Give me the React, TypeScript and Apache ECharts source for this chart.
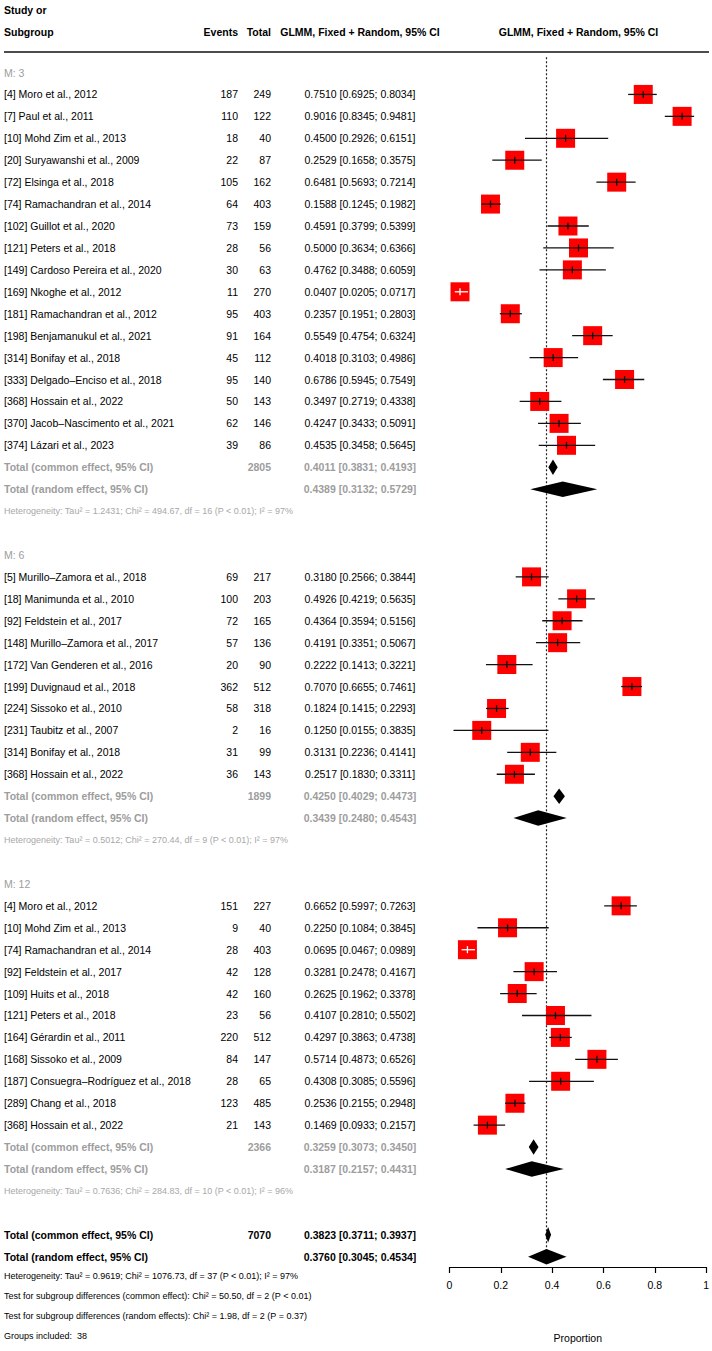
import React, { useEffect, useRef } from 'react';
import * as echarts from 'echarts';

const FONT = '"Liberation Sans", Arial, Helvetica, sans-serif';

// ---------------- Subgroup M: 3 ----------------
const m3Studies = [
  '[4] Moro et al., 2012',
  '[7] Paul et al., 2011',
  '[10] Mohd Zim et al., 2013',
  '[20] Suryawanshi et al., 2009',
  '[72] Elsinga et al., 2018',
  '[74] Ramachandran et al., 2014',
  '[102] Guillot et al., 2020',
  '[121] Peters et al., 2018',
  '[149] Cardoso Pereira et al., 2020',
  '[169] Nkoghe et al., 2012',
  '[181] Ramachandran et al., 2012',
  '[198] Benjamanukul et al., 2021',
  '[314] Bonifay et al., 2018',
  '[333] Delgado–Enciso et al., 2018',
  '[368] Hossain et al., 2022',
  '[370] Jacob–Nascimento et al., 2021',
  '[374] Lázari et al., 2023',
];
const m3Events = [187, 110, 18, 22, 105, 64, 73, 28, 30, 11, 95, 91, 45, 95, 50, 62, 39];
const m3Totals = [249, 122, 40, 87, 162, 403, 159, 56, 63, 270, 403, 164, 112, 140, 143, 146, 86];
const m3Est = [0.751, 0.9016, 0.45, 0.2529, 0.6481, 0.1588, 0.4591, 0.5, 0.4762, 0.0407, 0.2357, 0.5549, 0.4018, 0.6786, 0.3497, 0.4247, 0.4535];
const m3Lower = [0.6925, 0.8345, 0.2926, 0.1658, 0.5693, 0.1245, 0.3799, 0.3634, 0.3488, 0.0205, 0.1951, 0.4754, 0.3103, 0.5945, 0.2719, 0.3433, 0.3458];
const m3Upper = [0.8034, 0.9481, 0.6151, 0.3575, 0.7214, 0.1982, 0.5399, 0.6366, 0.6059, 0.0717, 0.2803, 0.6324, 0.4986, 0.7549, 0.4338, 0.5091, 0.5645];

// ---------------- Subgroup M: 6 ----------------
const m6Studies = [
  '[5] Murillo–Zamora et al., 2018',
  '[18] Manimunda et al., 2010',
  '[92] Feldstein et al., 2017',
  '[148] Murillo–Zamora et al., 2017',
  '[172] Van Genderen et al., 2016',
  '[199] Duvignaud et al., 2018',
  '[224] Sissoko et al., 2010',
  '[231] Taubitz et al., 2007',
  '[314] Bonifay et al., 2018',
  '[368] Hossain et al., 2022',
];
const m6Events = [69, 100, 72, 57, 20, 362, 58, 2, 31, 36];
const m6Totals = [217, 203, 165, 136, 90, 512, 318, 16, 99, 143];
const m6Est = [0.318, 0.4926, 0.4364, 0.4191, 0.2222, 0.707, 0.1824, 0.125, 0.3131, 0.2517];
const m6Lower = [0.2566, 0.4219, 0.3594, 0.3351, 0.1413, 0.6655, 0.1415, 0.0155, 0.2236, 0.183];
const m6Upper = [0.3844, 0.5635, 0.5156, 0.5067, 0.3221, 0.7461, 0.2293, 0.3835, 0.4141, 0.3311];

// ---------------- Subgroup M: 12 ----------------
const m12Studies = [
  '[4] Moro et al., 2012',
  '[10] Mohd Zim et al., 2013',
  '[74] Ramachandran et al., 2014',
  '[92] Feldstein et al., 2017',
  '[109] Huits et al., 2018',
  '[121] Peters et al., 2018',
  '[164] Gérardin et al., 2011',
  '[168] Sissoko et al., 2009',
  '[187] Consuegra–Rodríguez et al., 2018',
  '[289] Chang et al., 2018',
  '[368] Hossain et al., 2022',
];
const m12Events = [151, 9, 28, 42, 42, 23, 220, 84, 28, 123, 21];
const m12Totals = [227, 40, 403, 128, 160, 56, 512, 147, 65, 485, 143];
const m12Est = [0.6652, 0.225, 0.0695, 0.3281, 0.2625, 0.4107, 0.4297, 0.5714, 0.4308, 0.2536, 0.1469];
const m12Lower = [0.5997, 0.1084, 0.0467, 0.2478, 0.1962, 0.281, 0.3863, 0.4873, 0.3085, 0.2155, 0.0933];
const m12Upper = [0.7263, 0.3845, 0.0989, 0.4167, 0.3378, 0.5502, 0.4738, 0.6526, 0.5596, 0.2948, 0.2157];

// ---------------- Subgroup summaries ----------------
const subgroupLabels = ['M: 3', 'M: 6', 'M: 12'];
const subgroupCommonN = [2805, 1899, 2366];
const subgroupCommonEst = [0.4011, 0.425, 0.3259];
const subgroupCommonLower = [0.3831, 0.4029, 0.3073];
const subgroupCommonUpper = [0.4193, 0.4473, 0.345];
const subgroupRandomEst = [0.4389, 0.3439, 0.3187];
const subgroupRandomLower = [0.3132, 0.248, 0.2157];
const subgroupRandomUpper = [0.5729, 0.4543, 0.4431];
const subgroupHeterogeneity = [
  'Heterogeneity: Tau² = 1.2431; Chi² = 494.67, df = 16 (P < 0.01); I² = 97%',
  'Heterogeneity: Tau² = 0.5012; Chi² = 270.44, df = 9 (P < 0.01); I² = 97%',
  'Heterogeneity: Tau² = 0.7636; Chi² = 284.83, df = 10 (P < 0.01); I² = 96%',
];

// ---------------- Overall ----------------
const overallCommonN = 7070;
const overallCommon = [0.3823, 0.3711, 0.3937];
const overallRandom = [0.376, 0.3045, 0.4534];
const footerLines = [
  'Heterogeneity: Tau² = 0.9619; Chi² = 1076.73, df = 37 (P < 0.01); I² = 97%',
  'Test for subgroup differences (common effect): Chi² = 50.50, df = 2 (P < 0.01)',
  'Test for subgroup differences (random effects): Chi² = 1.98, df = 2 (P = 0.37)',
  'Groups included:  38',
];
const axisTickValues = [0, 0.2, 0.4, 0.6, 0.8, 1];

// ---------------- Layout constants ----------------
const ROW_TOP = 72.5;
const ROW_H = 21.93;
const FOOTER_STEP = 0.9; // footer lines are a little tighter (in rows)
const N_ROWS = 58;
const PLOT_LEFT = 449.5;
const PLOT_WIDTH = 258;
const SQUARE = 19;
const DIAMOND_H = 15.5;
const NAME_X = 4;
const EVENTS_X = 238;
const TOTAL_X = 271;
const CI_X = 360;

const GREY = '#9d9d9d';
const HET_GREY = '#a8a8a8';

type TextRow = {
  row: number;
  kind: 'label' | 'study' | 'subTotal' | 'het' | 'total' | 'footer';
  name: string;
  events?: string;
  total?: string;
  ci?: string;
};

const fmt = (v: number) => v.toFixed(4);
const ciText = (e: number, l: number, u: number) => `${fmt(e)} [${fmt(l)}; ${fmt(u)}]`;

const groups = [
  { names: m3Studies, events: m3Events, totals: m3Totals, est: m3Est, lo: m3Lower, hi: m3Upper },
  { names: m6Studies, events: m6Events, totals: m6Totals, est: m6Est, lo: m6Lower, hi: m6Upper },
  { names: m12Studies, events: m12Events, totals: m12Totals, est: m12Est, lo: m12Lower, hi: m12Upper },
];

const textRows: TextRow[] = [];
const studyMarks: number[][] = [];
const diamondMarks: number[][] = [];
let rowCounter = 0;
groups.forEach((g, gi) => {
  textRows.push({ row: rowCounter, kind: 'label', name: subgroupLabels[gi] });
  rowCounter++;
  g.names.forEach((n, i) => {
    textRows.push({
      row: rowCounter,
      kind: 'study',
      name: n,
      events: String(g.events[i]),
      total: String(g.totals[i]),
      ci: ciText(g.est[i], g.lo[i], g.hi[i]),
    });
    studyMarks.push([g.est[i], g.lo[i], g.hi[i], rowCounter]);
    rowCounter++;
  });
  textRows.push({
    row: rowCounter,
    kind: 'subTotal',
    name: 'Total (common effect, 95% CI)',
    total: String(subgroupCommonN[gi]),
    ci: ciText(subgroupCommonEst[gi], subgroupCommonLower[gi], subgroupCommonUpper[gi]),
  });
  diamondMarks.push([subgroupCommonEst[gi], subgroupCommonLower[gi], subgroupCommonUpper[gi], rowCounter]);
  rowCounter++;
  textRows.push({
    row: rowCounter,
    kind: 'subTotal',
    name: 'Total (random effect, 95% CI)',
    ci: ciText(subgroupRandomEst[gi], subgroupRandomLower[gi], subgroupRandomUpper[gi]),
  });
  diamondMarks.push([subgroupRandomEst[gi], subgroupRandomLower[gi], subgroupRandomUpper[gi], rowCounter]);
  rowCounter++;
  textRows.push({ row: rowCounter, kind: 'het', name: subgroupHeterogeneity[gi] });
  rowCounter++;
  rowCounter++; // blank
});
textRows.push({
  row: rowCounter,
  kind: 'total',
  name: 'Total (common effect, 95% CI)',
  total: String(overallCommonN),
  ci: ciText(overallCommon[0], overallCommon[1], overallCommon[2]),
});
diamondMarks.push([overallCommon[0], overallCommon[1], overallCommon[2], rowCounter]);
rowCounter++;
textRows.push({
  row: rowCounter,
  kind: 'total',
  name: 'Total (random effect, 95% CI)',
  ci: ciText(overallRandom[0], overallRandom[1], overallRandom[2]),
});
diamondMarks.push([overallRandom[0], overallRandom[1], overallRandom[2], rowCounter]);
const refLineEndRow = rowCounter + 0.35;
footerLines.forEach((t, i) => {
  textRows.push({ row: rowCounter + (i + 1) * FOOTER_STEP, kind: 'footer', name: t });
});

function styleFor(kind: TextRow['kind']) {
  switch (kind) {
    case 'label':
      return { font: `10.5px ${FONT}`, fill: GREY };
    case 'study':
      return { font: `10.5px ${FONT}`, fill: '#000' };
    case 'subTotal':
      return { font: `bold 10.5px ${FONT}`, fill: GREY };
    case 'het':
      return { font: `9px ${FONT}`, fill: HET_GREY };
    case 'total':
      return { font: `bold 10.5px ${FONT}`, fill: '#000' };
    default:
      return { font: `9px ${FONT}`, fill: '#000' };
  }
}

function txt(x: number, y: number, text: string, font: string, fill: string, align: string) {
  return {
    type: 'text',
    x,
    y,
    style: { text, font, fill, align, verticalAlign: 'middle' },
  };
}

export default function App() {
  const ref = useRef<HTMLDivElement>(null);
  useEffect(() => {
    document.body.style.margin = '0';
    if (!ref.current) return;
    const chart = echarts.init(ref.current, null, { renderer: 'svg' });
    const headFont = `bold 10.5px ${FONT}`;
    const option: any = {
      animation: false,
      grid: [
        { left: PLOT_LEFT, width: PLOT_WIDTH, top: ROW_TOP, height: ROW_H * N_ROWS },
        { left: PLOT_LEFT, width: PLOT_WIDTH, top: 1247, height: 20 },
      ],
      xAxis: [
        { gridIndex: 0, type: 'value', min: 0, max: 1, show: false },
        {
          gridIndex: 1,
          type: 'value',
          min: axisTickValues[0],
          max: axisTickValues[axisTickValues.length - 1],
          interval: 0.2,
          axisLine: { show: true, lineStyle: { color: '#000', width: 1.2 } },
          axisTick: { show: true, length: 6, lineStyle: { color: '#000', width: 1.2 } },
          axisLabel: { color: '#000', fontSize: 10.5, fontFamily: FONT, margin: 12 },
          splitLine: { show: false },
          name: 'Proportion',
          nameLocation: 'middle',
          nameGap: 65,
          nameTextStyle: { color: '#000', fontSize: 10.5, fontFamily: FONT },
        },
      ],
      yAxis: [
        { gridIndex: 0, type: 'value', min: 0, max: N_ROWS, inverse: true, show: false },
        { gridIndex: 1, type: 'value', min: 0, max: 1, show: false },
      ],
      graphic: [
        txt(NAME_X, 10, 'Study or', headFont, '#000', 'left'),
        txt(NAME_X, 32, 'Subgroup', headFont, '#000', 'left'),
        txt(EVENTS_X, 32, 'Events', headFont, '#000', 'right'),
        txt(TOTAL_X, 32, 'Total', headFont, '#000', 'right'),
        txt(CI_X, 32, 'GLMM, Fixed + Random, 95% CI', headFont, '#000', 'center'),
        txt(PLOT_LEFT + PLOT_WIDTH / 2, 32, 'GLMM, Fixed + Random, 95% CI', headFont, '#000', 'center'),
        {
          type: 'line',
          shape: { x1: 4, y1: 52, x2: 709, y2: 52 },
          style: { stroke: '#111', lineWidth: 1.5 },
        },
      ],
      series: [
        {
          type: 'custom',
          name: 'reference',
          xAxisIndex: 0,
          yAxisIndex: 0,
          clip: false,
          silent: true,
          z: 1,
          encode: { x: 0, y: [1, 2] },
          data: [[overallRandom[0], -0.7, refLineEndRow]],
          renderItem: (params: any, api: any) => {
            const a = api.coord([api.value(0), api.value(1)]);
            const b = api.coord([api.value(0), api.value(2)]);
            return {
              type: 'line',
              shape: { x1: a[0], y1: a[1], x2: b[0], y2: b[1] },
              style: { stroke: '#222', lineWidth: 1.2, lineDash: [2, 2] },
            };
          },
        },
        {
          type: 'custom',
          name: 'studies',
          xAxisIndex: 0,
          yAxisIndex: 0,
          clip: false,
          silent: true,
          z: 2,
          encode: { x: [0, 1, 2], y: 3 },
          data: studyMarks,
          renderItem: (params: any, api: any) => {
            const row = api.value(3);
            const c = api.coord([api.value(0), row]);
            const l = api.coord([api.value(1), row]);
            const h = api.coord([api.value(2), row]);
            const half = SQUARE / 2;
            const inside = l[0] > c[0] - half && h[0] < c[0] + half;
            const lc = inside ? '#ffffff' : '#111111';
            return {
              type: 'group',
              children: [
                {
                  type: 'rect',
                  shape: { x: c[0] - half, y: c[1] - half, width: SQUARE, height: SQUARE },
                  style: { fill: '#ff0000' },
                },
                {
                  type: 'line',
                  shape: { x1: l[0], y1: c[1], x2: h[0], y2: c[1] },
                  style: { stroke: lc, lineWidth: 1.3 },
                },
                {
                  type: 'line',
                  shape: { x1: c[0], y1: c[1] - 3.5, x2: c[0], y2: c[1] + 3.5 },
                  style: { stroke: lc, lineWidth: 1.3 },
                },
              ],
            };
          },
        },
        {
          type: 'custom',
          name: 'diamonds',
          xAxisIndex: 0,
          yAxisIndex: 0,
          clip: false,
          silent: true,
          z: 3,
          encode: { x: [0, 1, 2], y: 3 },
          data: diamondMarks,
          renderItem: (params: any, api: any) => {
            const row = api.value(3);
            const c = api.coord([api.value(0), row]);
            const l = api.coord([api.value(1), row]);
            const h = api.coord([api.value(2), row]);
            const hh = DIAMOND_H / 2;
            return {
              type: 'polygon',
              shape: {
                points: [
                  [l[0], c[1]],
                  [c[0], c[1] - hh],
                  [h[0], c[1]],
                  [c[0], c[1] + hh],
                ],
              },
              style: { fill: '#000' },
            };
          },
        },
        {
          type: 'custom',
          name: 'table',
          xAxisIndex: 0,
          yAxisIndex: 0,
          clip: false,
          silent: true,
          z: 4,
          encode: { x: 0, y: 1 },
          data: textRows.map((r) => [0, r.row]),
          renderItem: (params: any, api: any) => {
            const r = textRows[params.dataIndex];
            const y = api.coord([0, api.value(1)])[1];
            const st = styleFor(r.kind);
            const children: any[] = [txt(NAME_X, y, r.name, st.font, st.fill, 'left')];
            if (r.events) children.push(txt(EVENTS_X, y, r.events, st.font, st.fill, 'right'));
            if (r.total) children.push(txt(TOTAL_X, y, r.total, st.font, st.fill, 'right'));
            if (r.ci) children.push(txt(CI_X, y, r.ci, st.font, st.fill, 'center'));
            return { type: 'group', children };
          },
        },
      ],
    };
    chart.setOption(option);
    return () => {
      chart.dispose();
    };
  }, []);
  return <div ref={ref} style={{ width: 712, height: 1351 }} />;
}
